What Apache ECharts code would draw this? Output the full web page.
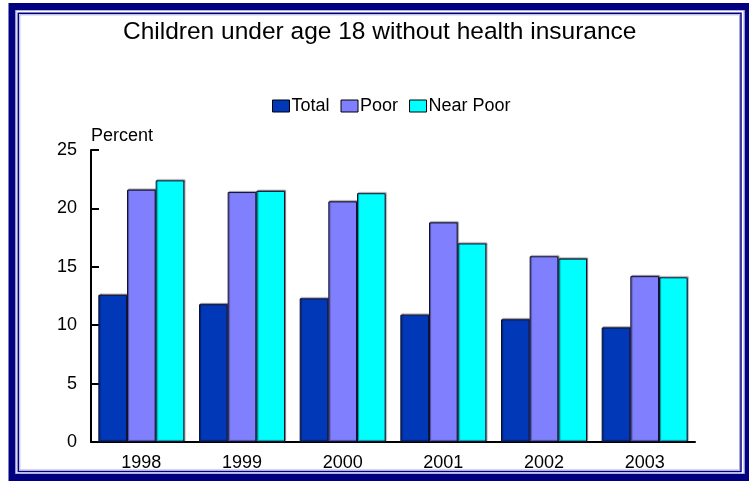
<!DOCTYPE html>
<html>
<head>
<meta charset="utf-8">
<script src="https://cdn.jsdelivr.net/npm/echarts@6/dist/echarts.min.js"></script>
<style>
  html, body { margin: 0; padding: 0; background: #ffffff; }
  #chart { width: 749px; height: 481px; }
</style>
</head>
<body>
<div id="chart"></div>
<script>
// Uninsured children under 18, percent by year and income group
var years = ['1998', '1999', '2000', '2001', '2002', '2003'];
var totalValues = [12.6, 11.8, 12.3, 10.9, 10.5, 9.8];
var poorValues = [21.6, 21.4, 20.6, 18.8, 15.9, 14.2];
var nearPoorValues = [22.4, 21.5, 21.3, 17.0, 15.7, 14.1];
var seriesNames = ['Total', 'Poor', 'Near Poor'];
var yTicks = { min: 0, max: 25, interval: 5 };

var FONT = '"Liberation Sans", Arial, sans-serif';
var NAVY = '#000080';

function barSeries(name, values, color) {
  return {
    name: name,
    type: 'bar',
    data: values,
    barGap: '0%',
    barCategoryGap: '14.6%',
    itemStyle: {
      color: color,
      borderColor: '#111133',
      borderWidth: 1,
      shadowColor: 'rgba(0,0,0,0.45)',
      shadowOffsetX: 1,
      shadowOffsetY: -1,
      shadowBlur: 1
    },
    emphasis: { disabled: true }
  };
}

var chart = echarts.init(document.getElementById('chart'), null, { renderer: 'canvas' });
chart.setOption({
  animation: false,
  backgroundColor: '#ffffff',
  title: {
    text: 'Children under age 18 without health insurance',
    left: 123,
    top: 20,
    padding: 0,
    textStyle: { fontFamily: FONT, fontSize: 24.5, fontWeight: 'normal', color: '#000' }
  },
  legend: {
    data: seriesNames,
    left: 272,
    top: 97,
    padding: 0,
    itemWidth: 17,
    itemHeight: 12,
    itemGap: 11,
    icon: 'rect',
    itemStyle: { borderColor: '#000', borderWidth: 1 },
    textStyle: { fontFamily: FONT, fontSize: 18, color: '#000', padding: [0, 0, 0, -3] }
  },
  grid: { left: 91, right: 54, top: 150, bottom: 39, containLabel: false },
  xAxis: {
    type: 'category',
    data: years,
    axisLine: { lineStyle: { color: '#000', width: 2 } },
    axisTick: { show: false },
    axisLabel: { fontFamily: FONT, fontSize: 18, color: '#000', margin: 12 },
    splitLine: { show: false }
  },
  yAxis: {
    type: 'value',
    min: yTicks.min,
    max: yTicks.max,
    interval: yTicks.interval,
    name: 'Percent',
    nameLocation: 'end',
    nameGap: 14,
    nameTextStyle: { fontFamily: FONT, fontSize: 18, color: '#000', align: 'left', verticalAlign: 'middle' },
    axisLine: { show: true, lineStyle: { color: '#000', width: 2 } },
    axisTick: { show: true, inside: true, length: 8, lineStyle: { color: '#000', width: 2 } },
    axisLabel: { fontFamily: FONT, fontSize: 18, color: '#000', margin: 14 },
    splitLine: { show: false }
  },
  series: [
    barSeries(seriesNames[0], totalValues, '#0038B8'),
    barSeries(seriesNames[1], poorValues, '#8080FF'),
    barSeries(seriesNames[2], nearPoorValues, '#00FFFF')
  ],
  graphic: [
    // heavy outer frame
    { type: 'rect', silent: true, z: 100,
      shape: { x: 12, y: 6.5, width: 736, height: 471 },
      style: { fill: null, stroke: NAVY, lineWidth: 7 } },
    { type: 'rect', silent: true, z: 100,
      shape: { x: 16, y: 10.5, width: 728, height: 463 },
      style: { fill: null, stroke: '#b0b0e0', lineWidth: 1 } },
    // thin inner frame
    { type: 'rect', silent: true, z: 100,
      shape: { x: 18.3, y: 13.3, width: 722.7, height: 458.2 },
      style: { fill: null, stroke: NAVY, lineWidth: 1.5 } },
    { type: 'rect', silent: true, z: 100,
      shape: { x: 19.8, y: 14.8, width: 719.7, height: 455.2 },
      style: { fill: null, stroke: '#a8a8dc', lineWidth: 1 } }
  ]
});
</script>
</body>
</html>
